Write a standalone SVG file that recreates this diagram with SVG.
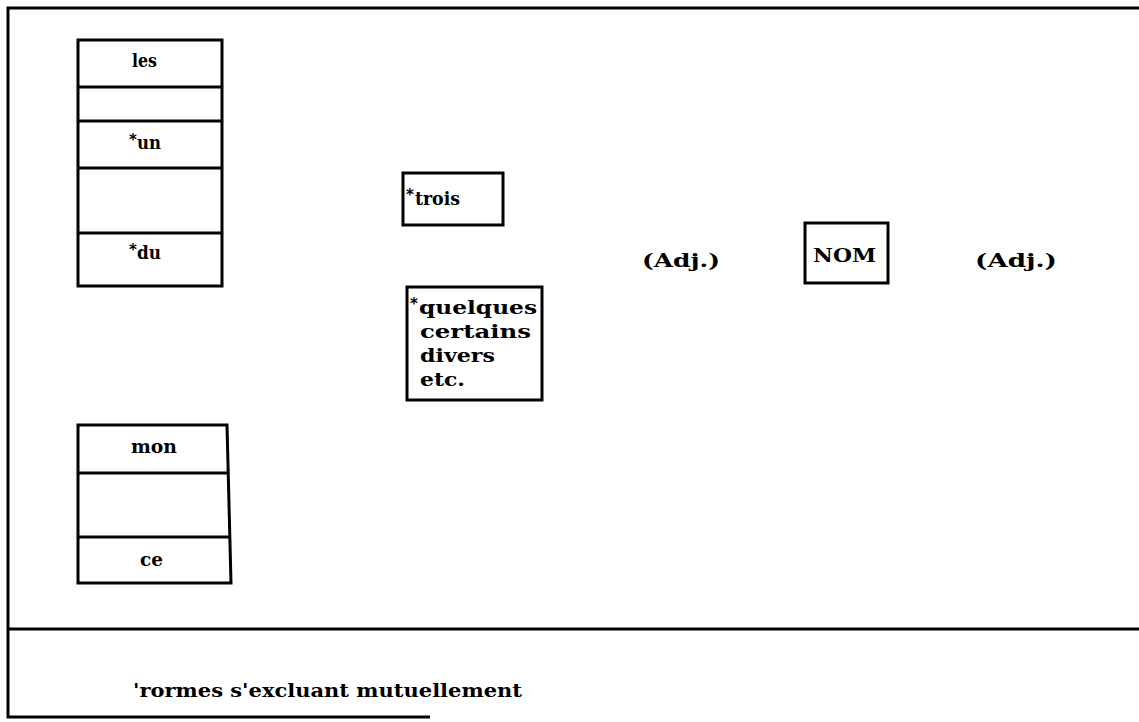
<svg xmlns="http://www.w3.org/2000/svg" width="1139" height="722" viewBox="0 0 1139 722">
<style>
.b{fill:#fff;stroke:#000;stroke-width:3}
.l{stroke:#000;stroke-width:3;fill:none}
.t{font-family:"DejaVu Serif","Liberation Serif",serif;font-weight:bold;font-size:18px;fill:#000}
.a{font-family:"DejaVu Sans",sans-serif;font-weight:bold;font-size:15px;fill:#000}
</style>
<rect width="1139" height="722" fill="#fff"/>
<g id="frame">
<path class="l" d="M1139 8 L8 8 L8 717 L430 717"/>
<path class="l" d="M8 629 L1139 629"/>
</g>
<g id="articles">
<rect class="b" x="78" y="40" width="144" height="246"/>
<line class="l" x1="78" y1="87" x2="222" y2="87"/>
<line class="l" x1="78" y1="121" x2="222" y2="121"/>
<line class="l" x1="78" y1="168" x2="222" y2="168"/>
<line class="l" x1="78" y1="233" x2="222" y2="233"/>
<text class="t" x="132" y="67" textLength="25" lengthAdjust="spacingAndGlyphs">les</text>
<text class="a" x="129" y="145">*</text>
<text class="t" x="137" y="149" textLength="24" lengthAdjust="spacingAndGlyphs">un</text>
<text class="a" x="129" y="255">*</text>
<text class="t" x="137" y="259" textLength="24" lengthAdjust="spacingAndGlyphs">du</text>
</g>
<g id="possessifs">
<path class="b" d="M78 425 L227 425 L231 583 L78 583 Z"/>
<line class="l" x1="78" y1="473" x2="228" y2="473"/>
<line class="l" x1="78" y1="537" x2="230" y2="537"/>
<text class="t" x="131" y="453" textLength="46" lengthAdjust="spacingAndGlyphs">mon</text>
<text class="t" x="140" y="566" textLength="23" lengthAdjust="spacingAndGlyphs">ce</text>
</g>
<g id="trois">
<rect class="b" x="403" y="173" width="100" height="52"/>
<text class="a" x="406" y="200">*</text>
<text class="t" x="415" y="205" textLength="45" lengthAdjust="spacingAndGlyphs">trois</text>
</g>
<g id="quelques">
<rect class="b" x="407" y="287" width="135" height="113"/>
<text class="a" x="410" y="309">*</text>
<text class="t" x="419" y="314" textLength="118" lengthAdjust="spacingAndGlyphs">quelques</text>
<text class="t" x="420" y="338" textLength="111" lengthAdjust="spacingAndGlyphs">certains</text>
<text class="t" x="420" y="362" textLength="75" lengthAdjust="spacingAndGlyphs">divers</text>
<text class="t" x="420" y="386" textLength="45" lengthAdjust="spacingAndGlyphs">etc.</text>
</g>
<g id="adj1"><text class="t" x="642" y="267" textLength="78" lengthAdjust="spacingAndGlyphs">(Adj.)</text></g>
<g id="nom">
<rect class="b" x="805" y="223" width="83" height="60"/>
<text class="t" x="813" y="262" textLength="63" lengthAdjust="spacingAndGlyphs">NOM</text>
</g>
<g id="adj2"><text class="t" x="975" y="267" textLength="82" lengthAdjust="spacingAndGlyphs">(Adj.)</text></g>
<g id="connectors"></g>
<g id="legend"><text class="t" x="133" y="697" textLength="389" lengthAdjust="spacingAndGlyphs">'rormes s'excluant mutuellement</text></g>
</svg>
